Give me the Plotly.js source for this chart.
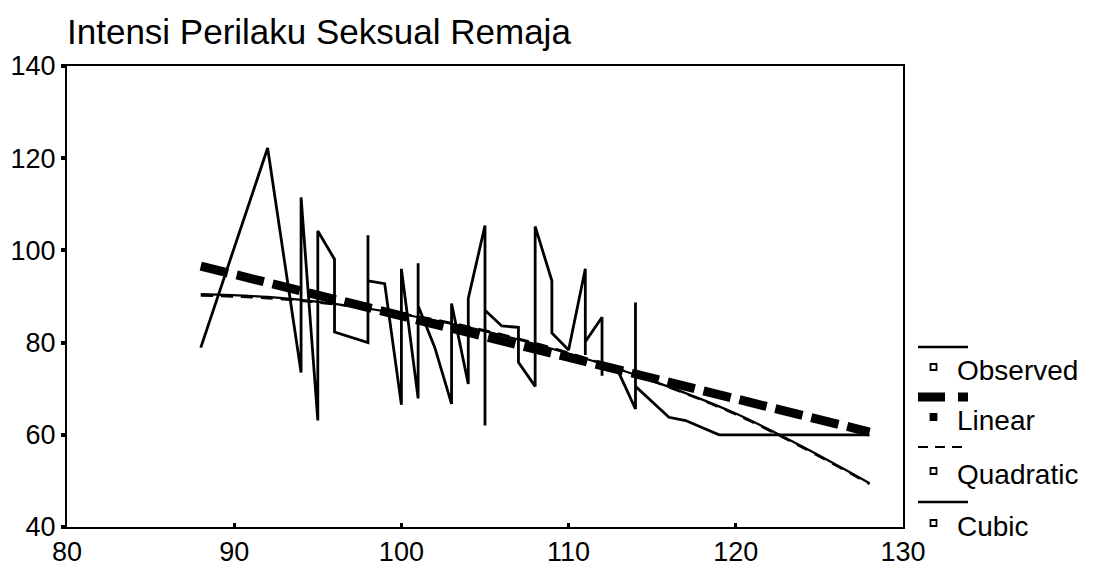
<!DOCTYPE html>
<html>
<head>
<meta charset="utf-8">
<script src="https://cdn.plot.ly/plotly-3.0.1.min.js"></script>
<style>
  html, body { margin: 0; padding: 0; background: #ffffff; }
  #chart { width: 1101px; height: 577px; }
</style>
</head>
<body>
<div id="chart"></div>
<script>
// ---- Data ----
const chartTitle = "Intensi Perilaku Seksual Remaja";

// Observed values (connected in order of x, as drawn)
const observedX = [88, 92, 94, 94, 95, 95, 96, 96, 98, 98, 98, 99, 100, 100, 101, 101, 101, 102, 103, 103, 104, 104,
                   105, 105, 105, 106, 107, 107, 108, 108, 109, 109, 110, 111, 111, 111, 112, 112, 112, 113,
                   114, 114, 114, 116, 117, 119, 128];
const observedY = [78.9, 122.2, 73.5, 111.5, 63.1, 104.2, 98.1, 82.3, 80.0, 103.3, 93.4, 92.8, 66.5, 96.0, 67.9, 97.2, 88.0, 78.9, 66.7, 88.5, 71.0, 89.6,
                   105.4, 62.0, 87.0, 83.6, 83.3, 75.7, 70.5, 105.2, 93.4, 82.1, 78.4, 96.0, 77.3, 80.2, 85.5, 72.8, 75.7, 73.5,
                   65.6, 88.7, 70.5, 63.8, 63.1, 60.0, 60.0];

// Linear fit
const linearX = [88, 128];
const linearY = [96.6, 60.6];

// Quadratic fit
const quadX = [88, 92, 96, 100, 104, 108, 112, 116, 120, 124, 128];
const quadY = [90.2, 89.6, 88.3, 86.3, 83.5, 79.9, 75.5, 70.3, 64.4, 57.2, 49.3];

// Cubic fit
const cubicX = [88, 92, 96, 100, 104, 108, 112, 116, 120, 124, 128];
const cubicY = [90.5, 89.9, 88.4, 86.2, 83.3, 79.7, 75.4, 70.4, 64.6, 57.4, 49.5];

// Axis ticks
const xTicks = [80, 90, 100, 110, 120, 130];
const yTicks = [40, 60, 80, 100, 120, 140];

// Legend entries
const legendNames = ["Observed", "Linear", "Quadratic", "Cubic"];

// ---- Layout geometry ----
const W = 1101, H = 577;
const M = { l: 67, r: 198, t: 66, b: 50 };
const plotW = W - M.l - M.r, plotH = H - M.t - M.b;
const px2x = px => (px - M.l) / plotW;
const py2y = py => (H - M.b - py) / plotH;

const FONT = "Liberation Sans, Arial, Helvetica, sans-serif";

const traces = [
  { x: observedX, y: observedY, name: legendNames[0], type: "scatter", mode: "lines",
    line: { color: "#000", width: 2.8 }, showlegend: false },
  { x: cubicX, y: cubicY, name: legendNames[3], type: "scatter", mode: "lines",
    line: { color: "#000", width: 2.2, shape: "spline" }, showlegend: false },
  { x: quadX, y: quadY, name: legendNames[2], type: "scatter", mode: "lines",
    line: { color: "#000", width: 2.2, dash: "12px,8px", shape: "spline" }, showlegend: false },
  { x: linearX, y: linearY, name: legendNames[1], type: "scatter", mode: "lines",
    line: { color: "#000", width: 9, dash: "28px,9px" }, showlegend: false }
];

// Custom legend (SPSS style: line sample above, small square + label below)
const legendRows = [
  { name: legendNames[0], lineY: 347, textY: 370, dash: "solid", width: 2.5, filled: false },
  { name: legendNames[1], lineY: 397, textY: 420, dash: "27px,13px", width: 9, filled: true },
  { name: legendNames[2], lineY: 447, textY: 474, dash: "10px,7px", width: 2, filled: false },
  { name: legendNames[3], lineY: 502, textY: 526, dash: "solid", width: 2.5, filled: false }
];
const shapes = [];
const annotations = [];
legendRows.forEach(r => {
  shapes.push({ type: "line", xref: "paper", yref: "paper",
    x0: px2x(918), x1: px2x(968), y0: py2y(r.lineY), y1: py2y(r.lineY),
    line: { color: "#000", width: r.width, dash: r.dash } });
  const mY = r.textY - 3;
  shapes.push({ type: "rect", xref: "paper", yref: "paper",
    x0: px2x(930.5), x1: px2x(936.5), y0: py2y(mY + 3), y1: py2y(mY - 3),
    line: { color: "#000", width: 1.8 }, fillcolor: r.filled ? "#000" : "#fff" });
  annotations.push({ xref: "paper", yref: "paper", x: px2x(955), y: py2y(r.textY),
    xanchor: "left", yanchor: "middle", showarrow: false, text: r.name,
    font: { family: FONT, size: 28, color: "#000" } });
});

const layout = {
  width: W, height: H, autosize: false,
  margin: M,
  paper_bgcolor: "#fff", plot_bgcolor: "#fff",
  showlegend: false,
  title: { text: chartTitle, xref: "paper", x: 0, xanchor: "left",
           yref: "container", y: 1 - 32 / H, yanchor: "middle",
           pad: { l: 0, t: 0, b: 0, r: 0 },
           font: { family: FONT, size: 35, color: "#000" } },
  xaxis: { range: [80, 130], tickvals: xTicks, ticktext: xTicks.map(String),
           showgrid: false, zeroline: false, showline: true, mirror: true,
           linecolor: "#000", linewidth: 2, ticks: "inside", ticklen: 4, tickwidth: 3, tickcolor: "#000",
           tickfont: { family: FONT, size: 27, color: "#000" } },
  yaxis: { range: [40, 140], tickvals: yTicks, ticktext: yTicks.map(String),
           showgrid: false, zeroline: false, showline: true, mirror: true,
           linecolor: "#000", linewidth: 2, ticks: "outside", ticklen: 4, tickwidth: 4, tickcolor: "#000",
           tickfont: { family: FONT, size: 27, color: "#000" } },
  shapes: shapes,
  annotations: annotations
};

Plotly.newPlot("chart", traces, layout, { displayModeBar: false, staticPlot: true });
</script>
</body>
</html>
